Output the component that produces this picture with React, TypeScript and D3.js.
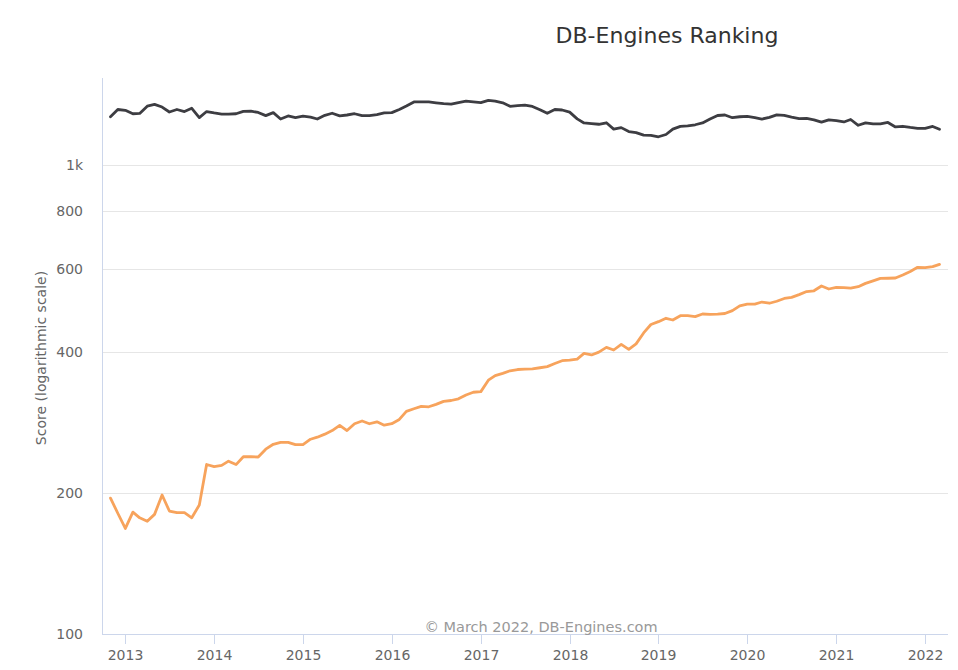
import React from "react";
import * as d3 from "d3";

const START_YEAR = 2012;
const START_MONTH = 10; // November (0-based)

const mysqlScores = [
  1270, 1316, 1311, 1289, 1291, 1338, 1350, 1332, 1300, 1316,
  1303, 1324, 1265, 1303, 1294, 1287, 1287, 1289, 1304, 1305,
  1297, 1277, 1296, 1256, 1275, 1265, 1274, 1268, 1256, 1279,
  1292, 1276, 1281, 1289, 1277, 1277, 1284, 1294, 1296, 1316,
  1339, 1366, 1367, 1366, 1360, 1354, 1351, 1362, 1371, 1366,
  1361, 1376, 1371, 1360, 1337, 1341, 1345, 1336, 1315, 1292,
  1316, 1313, 1299, 1257, 1232, 1228, 1224, 1233, 1195, 1204,
  1181, 1175, 1160, 1159, 1151, 1164, 1195, 1211, 1214, 1221,
  1232, 1256, 1278, 1281, 1264, 1270, 1273, 1265, 1256, 1266,
  1282, 1279, 1268, 1259, 1260, 1251, 1237, 1251, 1246, 1238,
  1253, 1218, 1232, 1226, 1226, 1235, 1208, 1212, 1205, 1200,
  1200, 1211, 1194,
];

const postgresScores = [
  195, 181, 168, 182, 177, 174, 180, 198, 183, 181.5,
  181.5, 177, 188.5, 230, 227.6, 229, 233.8, 229.9, 239, 238.9,
  238.6, 248, 254, 256.5, 256.5, 253.6, 253.5, 260.4, 263, 267,
  271.7, 278.8, 271.7, 281, 284.8, 281, 283.7, 279, 281, 287,
  298.7, 302.5, 306, 305.4, 309, 313.6, 315, 317.6, 323.6, 328,
  329, 348, 356, 360, 364.5, 366.8, 367.5, 368, 370, 372,
  377.8, 383, 384, 386, 397, 394, 399.6, 409, 403.7, 415,
  405, 416, 439, 457.6, 464, 471.8, 467.8, 477.8, 477.8, 475.5,
  481.8, 481, 481.5, 483, 490, 501.6, 505.8, 505.6, 511, 508,
  513, 520, 523, 530, 538, 540, 553, 544.8, 549, 548.5,
  547, 551, 560, 567, 574, 574.3, 575, 583.6, 594, 606,
  605, 608, 615,
];

const yTicks = [100, 200, 400, 600, 800, 1000];
const yTickLabels = ["100", "200", "400", "600", "800", "1k"];
const xTickYears = [2013, 2014, 2015, 2016, 2017, 2018, 2019, 2020, 2021, 2022];

const seriesColors = ["#3d3d42", "#f7a35c"];

const W = 958;
const H = 670;
const plotLeft = 102;
const plotRight = 948;
const plotTop = 78;
const plotBottom = 634;
const FONT = "'DejaVu Sans', Verdana, sans-serif";

export default function App() {
  const dates = mysqlScores.map((_, i) => new Date(START_YEAR, START_MONTH + i, 1));
  const x = d3
    .scaleTime()
    .domain([dates[0], dates[dates.length - 1]])
    .range([110.5, 939.5]);
  const y = d3.scaleLog().domain([100, 1000]).range([plotBottom, 165.4]);

  const line = d3
    .line<number>()
    .x((_, i) => x(dates[i]))
    .y((d) => y(d))
    .curve(d3.curveLinear);

  return (
    <svg width={W} height={H} style={{ display: "block", position: "absolute", left: 0, top: 0 }} fontFamily={FONT}>
      <rect x={0} y={0} width={W} height={H} fill="#ffffff" />
      <text x={667} y={43} textAnchor="middle" fontSize={22} fill="#333333">
        DB-Engines Ranking
      </text>

      {yTicks.map((t, i) => (
        <g key={t}>
          {t !== 100 && (
            <line x1={plotLeft} x2={plotRight} y1={Math.round(y(t)) + 0.5} y2={Math.round(y(t)) + 0.5} stroke="#e6e6e6" strokeWidth={1} />
          )}
          <text x={83} y={y(t) + 5} textAnchor="end" fontSize={14} fill="#666666">
            {yTickLabels[i]}
          </text>
        </g>
      ))}

      <line x1={plotLeft + 0.5} x2={plotLeft + 0.5} y1={plotTop} y2={plotBottom} stroke="#ccd6eb" strokeWidth={1} />
      <line x1={plotLeft} x2={plotRight} y1={plotBottom + 0.5} y2={plotBottom + 0.5} stroke="#ccd6eb" strokeWidth={1} />

      {xTickYears.map((yr) => {
        const xx = Math.round(x(new Date(yr, 0, 1))) + 0.5;
        return (
          <g key={yr}>
            <line x1={xx} x2={xx} y1={plotBottom} y2={plotBottom + 10} stroke="#ccd6eb" strokeWidth={1} />
            <text x={xx} y={660} textAnchor="middle" fontSize={14} fill="#666666">
              {yr}
            </text>
          </g>
        );
      })}

      <text
        transform={`translate(46, 358) rotate(-90)`}
        textAnchor="middle"
        fontSize={14}
        fill="#666666"
      >
        Score (logarithmic scale)
      </text>

      <path d={line(postgresScores) || ""} fill="none" stroke={seriesColors[1]} strokeWidth={2.8} strokeLinejoin="round" strokeLinecap="round" />
      <path d={line(mysqlScores) || ""} fill="none" stroke={seriesColors[0]} strokeWidth={2.8} strokeLinejoin="round" strokeLinecap="round" />

      <text x={541} y={632} textAnchor="middle" fontSize={14.5} fill="#999999">
        © March 2022, DB-Engines.com
      </text>
    </svg>
  );
}
